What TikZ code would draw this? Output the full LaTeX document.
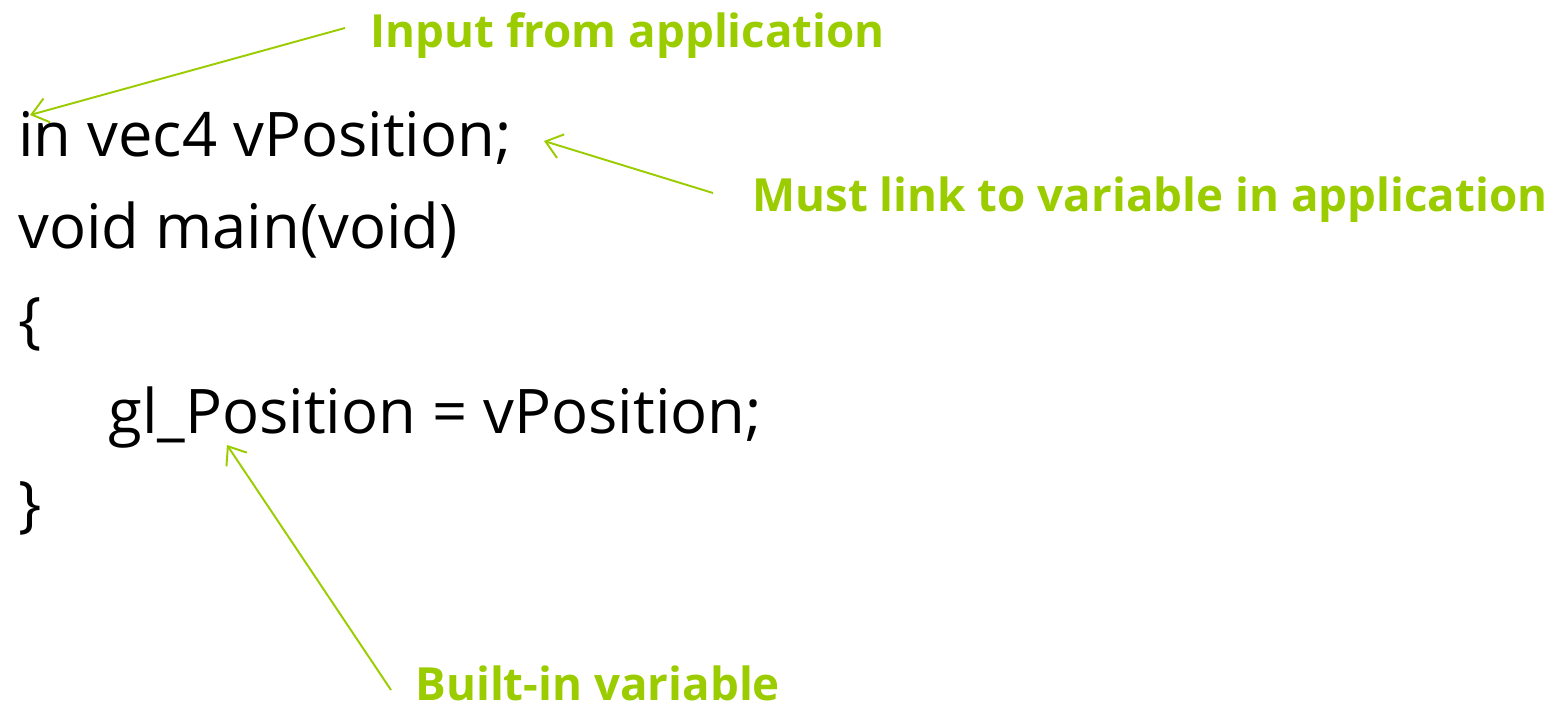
\documentclass[tikz,border=0pt]{standalone}
\usepackage{fontspec}
\setmainfont{Open Sans}
\usetikzlibrary{arrows.meta}
\definecolor{note}{RGB}{154,204,0}
\tikzset{
  code/.style={anchor=base west, inner sep=0pt, font=\fontsize{35}{42}\selectfont},
  label/.style={anchor=base west, inner sep=0pt, text=note, font=\fontsize{26}{32}\selectfont\bfseries},
  pointer/.style={draw=note, line width=1.1pt, -{Straight Barb[length=9pt, width=14pt]}}
}
\begin{document}
\begin{tikzpicture}[x=0.02cm, y=-0.02cm]
\useasboundingbox (0,0) rectangle (1561,709);
% shader source
\node[code] (l1) at (18,157) {in vec4 vPosition;};
\node[code] (l2) at (18,249) {void main(void)};
\node[code] (l3) at (18,341) {\{};
\node[code] (l4) at (108,433) {gl\_Position = vPosition;};
\node[code] (l5) at (18,525) {\}};
% notes
\node[label] (input) at (370,48) {Input from application};
\node[label] (link) at (752,212) {Must link to variable in application};
\node[label] (builtin) at (415,700) {Built-in variable};
\coordinate (s1) at (345,28);
\coordinate (t1) at (30,115);
\coordinate (s2) at (713,193);
\coordinate (t2) at (544,141);
\coordinate (s3) at (391,690);
\coordinate (t3) at (227,445);
\draw[pointer] (s1) -- (t1);
\draw[pointer] (s2) -- (t2);
\draw[pointer] (s3) -- (t3);
\end{tikzpicture}
\end{document}
